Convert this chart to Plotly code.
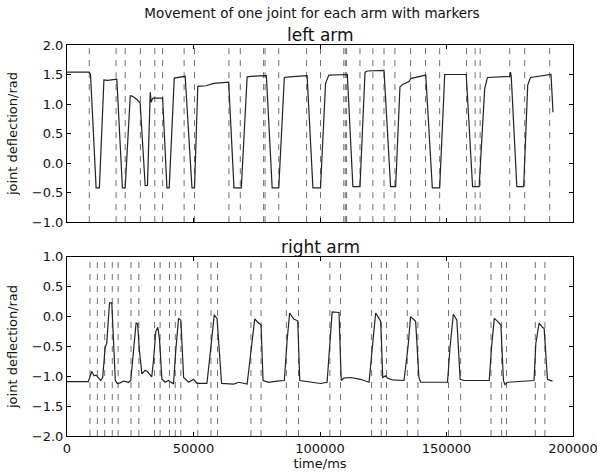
import plotly.graph_objects as go

# ---------------- data ----------------
left_t = [0, 8800, 9300, 11500, 12800, 14600, 16000, 18000, 19700, 21900, 23000,
          25000, 26000, 27500, 28900, 30900, 31800, 32900, 33300, 33600, 34000, 35000,
          37800, 39500, 40400, 42400, 44000, 46700, 49400, 50400, 51700, 55000, 58000,
          61000, 63900, 66000, 68900, 71200, 73000, 78800, 81100, 83700, 85900, 88000,
          94900, 97200, 100200, 102200, 103500, 110800, 113000, 115800, 117800, 118800,
          125300, 127900, 129900, 131600, 132600, 135200, 135800, 136500, 141800, 144400,
          147300, 149300, 157800, 160300, 162900, 165100, 166200, 175000, 175300, 175600,
          177800, 180500, 182100, 183200, 191300, 192100]
left_v = [1.54, 1.54, 1.50, -0.42, -0.42, 1.41, 1.40, 1.41, 1.42, -0.42, -0.42,
          1.14, 1.13, 1.08, 1.02, -0.38, -0.38, 1.20, 1.03, 1.07, 1.10, 1.10,
          1.10, -0.42, -0.42, 1.44, 1.45, 1.47, -0.42, -0.42, 1.30, 1.31, 1.35,
          1.36, 1.37, -0.42, -0.42, 1.46, 1.47, 1.48, -0.42, -0.42, 1.45, 1.46,
          1.48, -0.42, -0.42, 1.35, 1.49, 1.50, -0.40, -0.40, 1.54, 1.56,
          1.57, -0.40, -0.40, 1.29, 1.33, 1.38, 1.43, 1.44, 1.49, -0.42,
          -0.42, 1.50, 1.50, -0.40, -0.40, 1.26, 1.45, 1.47, 1.54, 1.46,
          -0.40, -0.40, 1.32, 1.45, 1.50, 0.86]

right_t = [0, 8400, 9800, 10700, 11500, 12400, 13300, 14100, 15100, 15700, 16800,
           17700, 18400, 19100, 19900, 21000, 22300, 24300, 25200, 26500, 27300, 27900,
           28600, 29600, 30900, 31800, 33500, 34200, 35100, 35900, 36600, 37500, 38800,
           40100, 42100, 43000, 44100, 45000, 46100, 48100, 50000, 51400, 55300, 56600,
           58200, 59300, 60300, 61100, 65900, 67900, 71200, 72500, 74200, 75800, 76700,
           77500, 79700, 83000, 85900, 87000, 88000, 89600, 91200, 92000, 96200, 100200,
           102800, 103900, 104800, 107500, 108400, 109400, 112100, 116000, 119400, 120700,
           122000, 123300, 124000, 124800, 126000, 126600, 128600, 133200, 134800, 135800,
           137800, 139100, 139800, 145000, 150400, 151400, 152700, 154100, 155400, 157000,
           166900, 167800, 168900, 170200, 171500, 172500, 173100, 174100, 184600, 185300,
           186600, 187900, 188600, 189900, 191200, 191900]
right_v = [-1.09, -1.09, -0.92, -0.99, -0.98, -1.03, -1.07, -1.02, -0.51, -0.45, 0.23,
           0.23, -0.40, -1.07, -1.12, -1.11, -1.08, -1.10, -1.07, -0.40, -0.11, -0.12,
           -0.56, -0.96, -0.90, -0.92, -1.01, -0.73, -0.25, -0.18, -0.40, -1.05, -1.10,
           -1.07, -1.13, -0.56, -0.03, -0.06, -1.02, -1.10, -1.05, -1.12, -1.12, -0.62,
           0.03, -0.03, -0.56, -1.12, -1.13, -1.10, -1.13, -0.68, -0.04, -0.11, -0.14,
           -1.07, -1.10, -1.08, -1.07, -0.40, 0.06, -0.04, -0.07, -1.07, -1.09, -1.12,
           -1.10, -0.51, 0.08, 0.07, -1.07, -1.03, -1.02, -1.05, -1.10, -0.51,
           0.06, -0.03, -0.08, -1.02, -0.99, -1.03, -1.06, -1.07, -0.51, 0.00,
           -0.08, -1.02, -1.10, -1.10, -1.10, -0.51, 0.04, -0.06, -1.05, -1.07,
           -1.07, -0.51, -0.03, -0.08, -0.14, -1.07, -1.14, -1.10, -1.07, -0.45,
           -0.11, -0.18, -0.20, -1.05, -1.07, -1.08]

left_markers = [8800, 19400, 23000, 29000, 34700, 37800, 46300, 50400, 64000, 68500,
                77700, 78300, 83700, 94700, 100200, 109400, 110000, 110500, 115800,
                120900, 125300, 129600, 135800, 141700, 147300, 157900, 161300, 163300,
                175000, 180900, 190800]
right_markers = [9100, 12000, 14900, 17900, 20200, 25300, 28400, 34600, 36800, 40500,
                 42800, 45000, 51700, 56900, 59500, 72700, 76700, 86700, 91500, 103900,
                 108100, 120400, 124200, 126300, 134500, 138700, 150800, 155600, 167600,
                 171800, 173700, 185100, 188900]

x_ticks = [0, 50000, 100000, 150000, 200000]
left_yticks = [-1.0, -0.5, 0.0, 0.5, 1.0, 1.5, 2.0]
right_yticks = [-2.0, -1.5, -1.0, -0.5, 0.0, 0.5, 1.0]

suptitle = "Movement of one joint for each arm with markers"
titles = ["left arm", "right arm"]
x_label = "time/ms"
y_label = "joint deflection/rad"


def marker_xy(ms, lo, hi):
    xs, ys = [], []
    for m in ms:
        xs += [m, m, None]
        ys += [lo, hi, None]
    return xs, ys


W, H = 597, 476

fig = go.Figure()
FONT = "DejaVu Sans"
dash_style = dict(color="#707070", width=1, dash="6px,6px")

mx, my = marker_xy(left_markers, -1.0, 2.0)
fig.add_trace(go.Scatter(x=mx, y=my, mode="lines", line=dash_style,
                         xaxis="x", yaxis="y", showlegend=False, hoverinfo="skip"))
fig.add_trace(go.Scatter(x=left_t, y=left_v, mode="lines",
                         line=dict(color="#222222", width=1.2),
                         xaxis="x", yaxis="y", showlegend=False))
mx, my = marker_xy(right_markers, -2.0, 1.0)
fig.add_trace(go.Scatter(x=mx, y=my, mode="lines", line=dash_style,
                         xaxis="x2", yaxis="y2", showlegend=False, hoverinfo="skip"))
fig.add_trace(go.Scatter(x=right_t, y=right_v, mode="lines",
                         line=dict(color="#222222", width=1.2),
                         xaxis="x2", yaxis="y2", showlegend=False))

axis_common = dict(showline=True, linecolor="black", linewidth=1, mirror="ticks",
                   ticks="inside", ticklen=4, tickcolor="black", showgrid=False,
                   zeroline=False, automargin=False,
                   tickfont=dict(family=FONT, size=13, color="#111"))

fig.update_layout(
    width=W, height=H,
    margin=dict(l=67, r=24, t=45, b=40),
    paper_bgcolor="white", plot_bgcolor="white",
    font=dict(family=FONT, size=13, color="#111"),
    title=dict(text=suptitle, x=312 / W, xref="container", xanchor="center",
               y=1 - 9 / H, yref="container", yanchor="top", pad=dict(t=0, b=0),
               font=dict(family=FONT, size=13.5, color="#111")),
    xaxis=dict(domain=[0, 1], range=[0, 200000], tickvals=x_ticks,
               showticklabels=False, anchor="y", **axis_common),
    yaxis=dict(domain=[0.547, 1], range=[-1.0, 2.0], tickvals=left_yticks,
               tickformat=".1f", anchor="x",
               title=dict(text=y_label, standoff=11, font=dict(family=FONT, size=13)),
               **axis_common),
    xaxis2=dict(domain=[0, 1], range=[0, 200000], tickvals=x_ticks,
                tickformat="d", anchor="y2", ticklabeloverflow="allow",
                title=dict(text=x_label, standoff=4, font=dict(family=FONT, size=13)),
                **axis_common),
    yaxis2=dict(domain=[0, 0.458], range=[-2.0, 1.0], tickvals=right_yticks,
                tickformat=".1f", anchor="x2",
                title=dict(text=y_label, standoff=11, font=dict(family=FONT, size=13)),
                **axis_common),
    annotations=[
        dict(text=titles[0], xref="paper", yref="paper", x=0.5, y=1.0,
             xanchor="center", yanchor="bottom", yshift=-2, showarrow=False,
             font=dict(family=FONT, size=17, color="#111")),
        dict(text=titles[1], xref="paper", yref="paper", x=0.5, y=0.458,
             xanchor="center", yanchor="bottom", yshift=-2, showarrow=False,
             font=dict(family=FONT, size=17, color="#111")),
    ],
)

# remove the page's default 8px body margin so the figure fills the window exactly
fig.write_html("out.html",
               config={"displayModeBar": False},
               post_script="document.body.style.margin='0';"
                           "document.body.style.overflow='hidden';")
